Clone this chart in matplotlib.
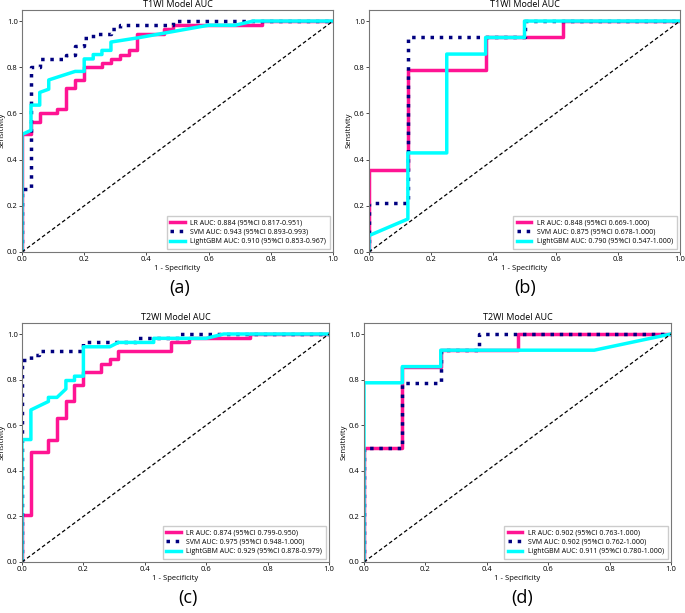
import matplotlib
matplotlib.use("Agg")
from matplotlib import pyplot as plt

plt.rcParams['font.family'] = ['Open Sans', 'DejaVu Sans']

# ROC points
a_lr_fpr = [0, 0, 0.029, 0.029, 0.057, 0.057, 0.114, 0.114, 0.143, 0.143, 0.171, 0.171, 0.2, 0.2, 0.257, 0.257,
            0.286, 0.286, 0.314, 0.314, 0.343, 0.343, 0.371, 0.371, 0.457, 0.457, 0.486, 0.486, 0.771, 0.771, 1.0]
a_lr_tpr = [0, 0.509, 0.509, 0.564, 0.564, 0.6, 0.6, 0.618, 0.618, 0.709, 0.709, 0.745, 0.745, 0.8, 0.8, 0.818,
            0.818, 0.836, 0.836, 0.855, 0.855, 0.873, 0.873, 0.945, 0.945, 0.964, 0.964, 0.982, 0.982, 1.0, 1.0]
a_svm_fpr = [0, 0, 0.029, 0.029, 0.057, 0.057, 0.143, 0.143, 0.171, 0.171, 0.2, 0.2, 0.229, 0.229, 0.286, 0.286,
             0.314, 0.314, 0.486, 0.486, 1.0]
a_svm_tpr = [0, 0.273, 0.273, 0.8, 0.8, 0.836, 0.836, 0.855, 0.855, 0.891, 0.891, 0.927, 0.927, 0.945, 0.945, 0.964,
             0.964, 0.982, 0.982, 1.0, 1.0]
a_gbm_fpr = [0, 0, 0.029, 0.029, 0.057, 0.057, 0.086, 0.086, 0.171, 0.2, 0.2, 0.229, 0.229, 0.257, 0.257, 0.286,
             0.286, 0.371, 0.6, 0.686, 0.743, 1.0]
a_gbm_tpr = [0, 0.509, 0.527, 0.636, 0.636, 0.691, 0.705, 0.745, 0.782, 0.782, 0.836, 0.836, 0.855, 0.855, 0.873,
             0.873, 0.909, 0.927, 0.982, 0.982, 1.0, 1.0]

b_lr_fpr = [0, 0, 0.125, 0.125, 0.375, 0.375, 0.625, 0.625, 1.0]
b_lr_tpr = [0, 0.357, 0.357, 0.786, 0.786, 0.929, 0.929, 1.0, 1.0]
b_svm_fpr = [0, 0, 0.125, 0.125, 0.5, 0.5, 1.0]
b_svm_tpr = [0, 0.214, 0.214, 0.929, 0.929, 1.0, 1.0]
b_gbm_fpr = [0, 0, 0.125, 0.125, 0.25, 0.25, 0.375, 0.375, 0.5, 0.5, 1.0]
b_gbm_tpr = [0, 0.071, 0.143, 0.429, 0.429, 0.857, 0.857, 0.929, 0.929, 1.0, 1.0]

c_lr_fpr = [0, 0, 0.029, 0.029, 0.086, 0.086, 0.114, 0.114, 0.143, 0.143, 0.171, 0.171, 0.2, 0.2, 0.257, 0.257,
            0.286, 0.286, 0.314, 0.314, 0.486, 0.486, 0.543, 0.543, 0.743, 0.743, 1.0]
c_lr_tpr = [0, 0.204, 0.204, 0.481, 0.481, 0.537, 0.537, 0.63, 0.63, 0.704, 0.704, 0.778, 0.778, 0.833, 0.833,
            0.87, 0.87, 0.889, 0.889, 0.926, 0.926, 0.963, 0.963, 0.981, 0.981, 1.0, 1.0]
c_svm_fpr = [0, 0, 0.029, 0.029, 0.057, 0.057, 0.2, 0.2, 0.371, 0.371, 0.514, 0.514, 1.0]
c_svm_tpr = [0, 0.885, 0.885, 0.907, 0.907, 0.926, 0.926, 0.963, 0.963, 0.981, 0.981, 1.0, 1.0]
c_gbm_fpr = [0, 0, 0.029, 0.029, 0.086, 0.086, 0.114, 0.143, 0.143, 0.171, 0.171, 0.2, 0.2, 0.286, 0.314, 0.429,
             0.429, 0.6, 0.657, 1.0]
c_gbm_tpr = [0, 0.537, 0.537, 0.667, 0.704, 0.722, 0.722, 0.759, 0.796, 0.796, 0.815, 0.815, 0.944, 0.944, 0.963,
             0.963, 0.981, 0.981, 1.0, 1.0]

d_lr_fpr = [0, 0, 0.125, 0.125, 0.25, 0.25, 0.5, 0.5, 1.0]
d_lr_tpr = [0, 0.5, 0.5, 0.857, 0.857, 0.929, 0.929, 1.0, 1.0]
d_svm_fpr = [0, 0, 0.125, 0.125, 0.25, 0.25, 0.375, 0.375, 1.0]
d_svm_tpr = [0, 0.5, 0.5, 0.786, 0.786, 0.929, 0.929, 1.0, 1.0]
d_gbm_fpr = [0, 0, 0.125, 0.125, 0.25, 0.25, 0.75, 1.0]
d_gbm_tpr = [0, 0.786, 0.786, 0.857, 0.857, 0.929, 0.929, 1.0]

titles = ['T1WI Model AUC', 'T1WI Model AUC', 'T2WI Model AUC', 'T2WI Model AUC']
panel_tags = ['(a)', '(b)', '(c)', '(d)']
legends = [
    ['LR AUC: 0.884 (95%CI 0.817-0.951)', 'SVM AUC: 0.943 (95%CI 0.893-0.993)', 'LightGBM AUC: 0.910 (95%CI 0.853-0.967)'],
    ['LR AUC: 0.848 (95%CI 0.669-1.000)', 'SVM AUC: 0.875 (95%CI 0.678-1.000)', 'LightGBM AUC: 0.790 (95%CI 0.547-1.000)'],
    ['LR AUC: 0.874 (95%CI 0.799-0.950)', 'SVM AUC: 0.975 (95%CI 0.948-1.000)', 'LightGBM AUC: 0.929 (95%CI 0.878-0.979)'],
    ['LR AUC: 0.902 (95%CI 0.763-1.000)', 'SVM AUC: 0.902 (95%CI 0.762-1.000)', 'LightGBM AUC: 0.911 (95%CI 0.780-1.000)'],
]
curves = [
    [(a_lr_fpr, a_lr_tpr), (a_svm_fpr, a_svm_tpr), (a_gbm_fpr, a_gbm_tpr)],
    [(b_lr_fpr, b_lr_tpr), (b_svm_fpr, b_svm_tpr), (b_gbm_fpr, b_gbm_tpr)],
    [(c_lr_fpr, c_lr_tpr), (c_svm_fpr, c_svm_tpr), (c_gbm_fpr, c_gbm_tpr)],
    [(d_lr_fpr, d_lr_tpr), (d_svm_fpr, d_svm_tpr), (d_gbm_fpr, d_gbm_tpr)],
]

W, H = 685, 613
fig = plt.figure(figsize=(W / 100, H / 100), dpi=100)

# axes boxes in pixels: left, top(at 1.05), right, bottom(at 0)
boxes = [(22, 9.5, 333, 252), (369, 9.5, 680, 252), (22, 322.6, 329, 562), (364, 322.6, 671, 562)]
tag_pos = [(180, 288), (525, 288), (188, 598), (522, 598)]

colors = ['#ff1493', '#000080', '#00ffff']
styles = ['-', ':', '-']

for i in range(4):
    l, t, r, b = boxes[i]
    ax = fig.add_axes([l / W, 1 - b / H, (r - l) / W, (b - t) / H])
    for k in range(3):
        fpr, tpr = curves[i][k]
        ax.plot(fpr, tpr, color=colors[k], linestyle=styles[k], lw=2.5, label=legends[i][k])
    ax.plot([0, 1], [0, 1], color='black', linestyle='--', lw=0.9, dashes=(3, 2))
    ax.set_xlim(0, 1.0)
    ax.set_ylim(0, 1.05)
    ax.set_title(titles[i], fontsize=6.5, pad=2)
    ax.set_xlabel('1 - Specificity', fontsize=5.5, labelpad=1)
    ax.set_ylabel('Sensitivity', fontsize=5.5, labelpad=1)
    ax.tick_params(labelsize=5.5, length=2, width=0.5, pad=1)
    for s in ax.spines.values():
        s.set_color('#777777')
        s.set_linewidth(0.8)
    ax.legend(loc='lower right', fontsize=5.0, handlelength=2.1, borderpad=0.5,
              labelspacing=0.35, framealpha=1, edgecolor='#cccccc', fancybox=False)
    fig.text(tag_pos[i][0] / W, 1 - tag_pos[i][1] / H, panel_tags[i], fontsize=13,
             ha='center', va='center')

fig.savefig('out.png', dpi=100)
